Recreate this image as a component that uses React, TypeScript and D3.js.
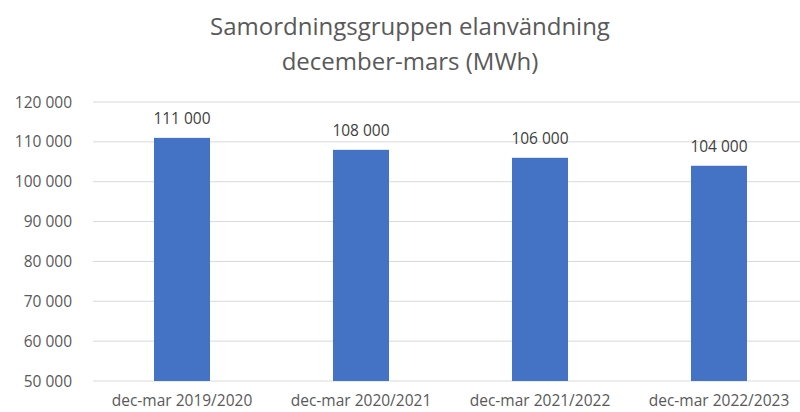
import React from "react";
import * as d3 from "d3";

const categories = ["dec-mar 2019/2020", "dec-mar 2020/2021", "dec-mar 2021/2022", "dec-mar 2022/2023"];
const values = [111000, 108000, 106000, 104000];
const yTicks = [50000, 60000, 70000, 80000, 90000, 100000, 110000, 120000];
const titleLines = ["Samordningsgruppen elanvändning", "december-mars (MWh)"];

const W = 800;
const H = 412;
const FONT = "'Open Sans', 'Liberation Sans', sans-serif";

const fmt = (v: number) => d3.format(",")(v).replace(/,/g, " ");

export default function App() {
  const x = d3.scaleBand<string>().domain(categories).range([92.5, 808.5]).paddingInner(0.687).paddingOuter(0.3435);
  const y = d3.scaleLinear().domain([50000, 120000]).range([381, 102]);
  return (
    <svg width={W} height={H} style={{ position: "absolute", left: 0, top: 0, background: "#fff" }}>
      <rect width={W} height={H} fill="#fff" />
      {titleLines.map((t, i) => (
        <text key={t} x={410} y={35 + i * 35} textAnchor="middle" fill="#595959" fontFamily={FONT} fontSize={24}>
          {t}
        </text>
      ))}
      {yTicks.map((t) => (
        <g key={t}>
          <line x1={93} x2={800} y1={y(t)} y2={y(t)} stroke="#d9d9d9" strokeWidth={1} />
          <text x={72} y={y(t) + 5.5} textAnchor="end" fill="#595959" fontFamily={FONT} fontSize={15.5}>
            {fmt(t)}
          </text>
        </g>
      ))}
      {categories.map((c, i) => {
        const bx = x(c)!;
        const bw = x.bandwidth();
        return (
          <g key={c}>
            <rect x={bx} y={y(values[i])} width={bw} height={y(50000) - y(values[i])} fill="#4472c4" />
            <text x={bx + bw / 2} y={y(values[i]) - 14} textAnchor="middle" fill="#404040" fontFamily={FONT} fontSize={15.5}>
              {fmt(values[i])}
            </text>
            <text x={bx + bw / 2} y={406} textAnchor="middle" fill="#595959" fontFamily={FONT} fontSize={15.5}>
              {c}
            </text>
          </g>
        );
      })}
    </svg>
  );
}
